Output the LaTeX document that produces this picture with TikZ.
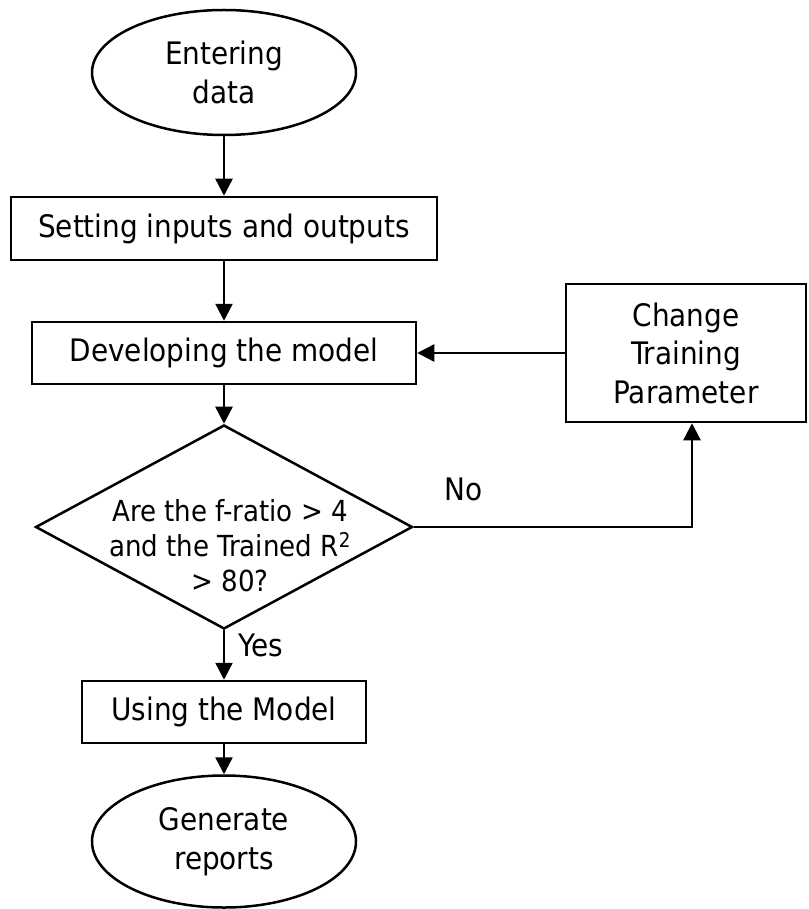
\documentclass[tikz,border=0pt]{standalone}
\usepackage{fontspec}
\setmainfont{DejaVu Sans Condensed}
\usetikzlibrary{shapes.geometric}
\usetikzlibrary{arrows.meta}

\begin{document}
\begin{tikzpicture}[x=1pt,y=-1pt,line width=2.5pt,>={Triangle[length=17pt,width=17pt]}] %% flow chart
	\tikzstyle{txt}=[font=\fontsize{31}{38.5}\selectfont,align=center,inner sep=0pt];
	\tikzstyle{term}=[txt,ellipse,draw,minimum width=264pt,minimum height=125pt];
	\tikzstyle{proc}=[txt,rectangle,draw,minimum height=62pt];
	\tikzstyle{lbl}=[txt,inner sep=0pt];
	\useasboundingbox (0,0) rectangle (808,909);
	%% boxes
	\node[term] (enter) at (224,72.5) {Entering\\data};
	\node[proc,minimum width=426pt,minimum height=63pt] (setio) at (224,228.5) {Setting inputs and outputs};
	\node[proc,minimum width=384pt] (develop) at (224,353) {Developing the model};
	\node[proc,minimum width=240pt,minimum height=138pt] (change) at (686,353) {Change\\Training\\Parameter};
	\node[diamond,draw,minimum width=377pt,minimum height=204pt,inner sep=0pt] (check) at (224,527) {};
	\node[txt,font=\fontsize{29}{35}\selectfont] (checktxt) at (230,546) {Are the f-ratio > 4\\and the Trained R\textsuperscript{2}\\> 80?};
	\node[proc,minimum width=284pt] (usemodel) at (224,712) {Using the Model};
	\node[term,minimum height=132pt] (report) at (224,841.5) {Generate\\reports};
	\coordinate (up) at ([xshift=6pt]change.south);
	%% arrows
	\draw[->] (enter) -- (setio);
	\draw[->] (setio) -- (develop);
	\draw[->] (develop) -- (check);
	\draw[->] (check) -- node[lbl,pos=.31,anchor=west,xshift=13pt] (yes) {Yes} (usemodel);
	\draw[->] (check.east) -| node[lbl,pos=.09,anchor=south,yshift=25pt] (no) {No} (up);
	\draw[->] (change) -- (develop);
	\draw[->] (usemodel) -- (report);
\end{tikzpicture}
\end{document}
